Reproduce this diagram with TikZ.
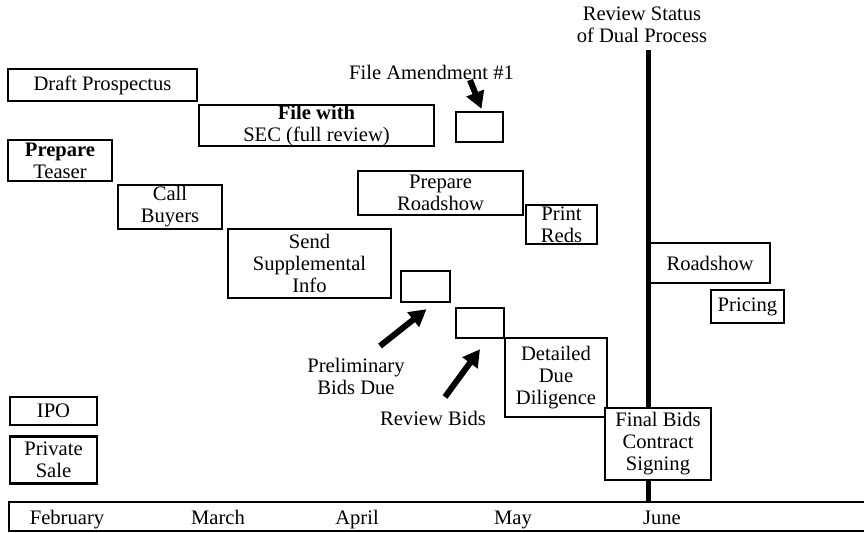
\documentclass[tikz,border=0pt]{standalone}
\usepackage{fontspec}
\setmainfont{Liberation Serif}
\usetikzlibrary{arrows.meta,positioning}

\begin{document}
\begin{tikzpicture}[x=0.5pt,y=-0.5pt,node distance=4.5pt,
 font=\fontsize{10.3}{11}\selectfont,
 box/.style={draw,line width=1.2pt,fill=white,align=center,inner sep=0pt},
 lbl/.style={align=center,inner sep=0pt},
 month/.style={anchor=base,inner sep=0pt},
 bigarrow/.style={line width=3pt,-{Triangle[length=8.5pt,width=9pt]}},
 statusline/.style={line width=2.5pt}]
\useasboundingbox (0,0) rectangle (864,532);
% time axis
\node[box,anchor=north west,minimum width=431pt,minimum height=14.5pt] (timeline) at (8,501) {};
\node[month] (feb) at (67,524) {February};
\node[month] (mar) at (218,524) {March};
\node[month] (apr) at (357,524) {April};
\node[month] (may) at (513,524) {May};
\node[month] (jun) at (662,524) {June};
% review status line
\node[lbl,text depth=0pt] (status) at (642,25) {Review Status\\of Dual Process};
\coordinate (statustop) at (648,50);
\draw[statusline] (statustop) -- (statustop |- timeline.north);
% tasks
\node[box,minimum width=94.5pt,minimum height=16pt] (draft) at (102.5,85) {Draft Prospectus};
\node[box,minimum width=117.5pt,minimum height=17.5pt] (sec) at (316.5,125.5) {\textbf{File with}\\SEC (full review)};
\node[box,minimum width=23.5pt,minimum height=15pt] (amend) at (479.5,127) {};
\node[box,minimum width=52pt,minimum height=20.5pt] (teaser) at (60,160.5) {\textbf{Prepare}\\Teaser};
\node[box,minimum width=52pt,minimum height=22pt] (buyers) at (170,207) {Call\\Buyers};
\node[box,minimum width=82.5pt,minimum height=22pt] (prepshow) at (440.5,193) {Prepare\\Roadshow};
\node[box,minimum width=35.5pt,minimum height=19.5pt] (reds) at (561.5,224.5) {Print\\Reds};
\node[box,minimum width=81.5pt,minimum height=34.5pt] (supp) at (309.5,263.5) {Send\\Supplemental\\Info};
\node[box,minimum width=24.5pt,minimum height=15.5pt] (prelim) at (425.5,286.5) {};
\node[box,minimum width=24pt,minimum height=15pt] (review) at (480,323) {};
\node[box,minimum width=51pt,minimum height=39.5pt] (diligence) at (556,377.5) {Detailed\\Due\\Diligence};
\node[box,minimum width=53pt,minimum height=36pt] (final) at (658,444) {Final Bids\\Contract\\Signing};
\node[box,minimum width=60pt,minimum height=20pt] (roadshow) at (710,263) {Roadshow};
\node[box,minimum width=36.5pt,minimum height=16.5pt] (pricing) at (747.5,306.5) {Pricing};
\node[box,minimum width=43.5pt,minimum height=14pt] (ipo) at (53.5,411) {IPO};
\node[box,minimum width=43.5pt,minimum height=23.5pt,below=of ipo] (private) {Private\\Sale};
% milestones
\node[lbl] (amendlbl) at (431.5,72) {File Amendment \#1};
\node[lbl] (prelimlbl) at (356,376) {Preliminary\\Bids Due};
\node[lbl] (reviewlbl) at (433,418) {Review Bids};
\coordinate (amendtail) at (470,80);
\coordinate (prelimtail) at (380,346);
\coordinate (reviewtail) at (445,397);
\draw[bigarrow] (amendtail) -- ([xshift=1pt,yshift=1pt]amend.north);
\draw[bigarrow] (prelimtail) -- ([xshift=0.5pt,yshift=-3pt]prelim.south);
\draw[bigarrow] (reviewtail) -- ([yshift=-5pt]review.south);
\end{tikzpicture}
\end{document}
